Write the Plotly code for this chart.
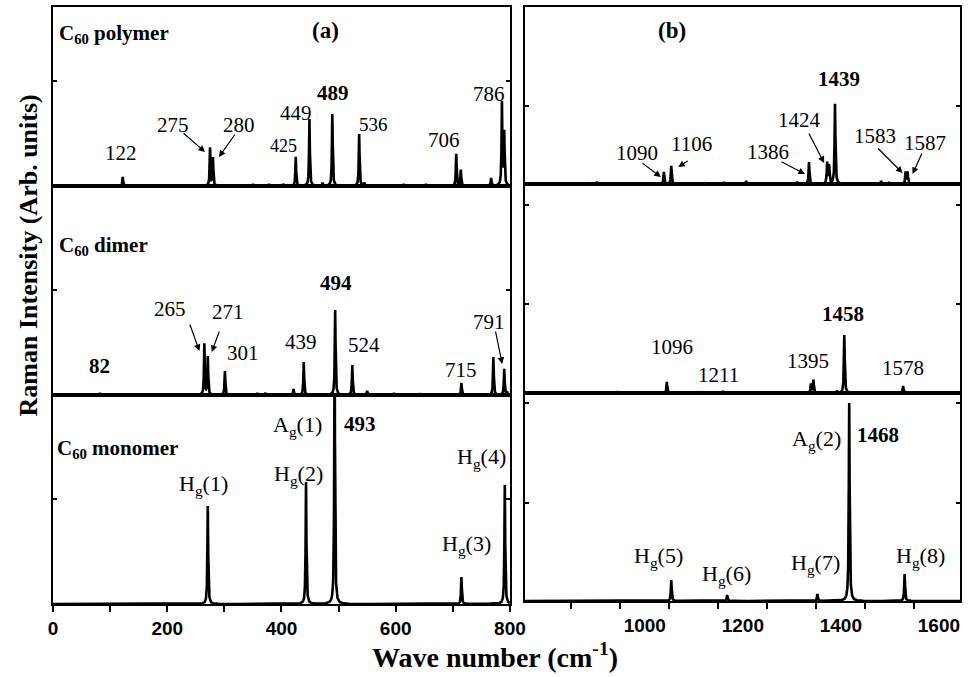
import numpy as np
import plotly.graph_objects as go

# ---------------- data (wave numbers in cm^-1, intensities in arb. units) -------------
poly_low_pos = [122, 275, 280, 350, 378, 403, 425, 449, 472, 489, 536, 545, 614, 653, 706, 714, 767, 786, 790]
poly_low_int = [9, 38, 28, 2, 2, 2, 29, 67, 3, 72, 52, 3, 2, 2, 32, 16, 8, 83, 53]

dimer_low_pos = [82, 265, 271, 301, 358, 372, 421, 439, 494, 524, 550, 597, 643, 715, 771, 790, 795]
dimer_low_int = [2, 51, 38, 24, 2, 2, 6, 33, 85, 30, 4, 2, 1, 12, 38, 26, 3]

mono_low_pos = [271, 443, 493, 715, 791]
mono_low_int = [98, 122, 260, 27, 119]

poly_high_pos = [934, 953, 1090, 1105, 1175, 1212, 1258, 1362, 1386, 1423, 1427, 1439, 1533, 1549, 1583, 1587]
poly_high_int = [1, 2, 12, 18, 1, 2, 3, 2, 22, 21, 18, 80, 3, 2, 12, 12]

dimer_high_pos = [996, 1096, 1162, 1211, 1390, 1395, 1443, 1458, 1578, 1608]
dimer_high_int = [1, 11, 1, 2, 9, 13, 2, 58, 7, 1]

mono_high_pos = [1105, 1219, 1403, 1468, 1581]
mono_high_int = [21, 6, 7, 198, 27]

x_ticks_low = [0, 200, 400, 600, 800]
x_minor_low = [100, 300, 500, 700]
x_ticks_high = [1000, 1200, 1400, 1600]
x_minor_high = [900, 1100, 1300, 1500, 1700]

SERIF = "Liberation Serif"
SANS = "Liberation Sans"


def spectrum(pos, inten, lo, hi, gamma):
    x = np.union1d(np.arange(lo, hi + 0.001, 0.2), np.array(pos, dtype=float))
    y = np.zeros_like(x)
    for p, h in zip(pos, inten):
        y += h * gamma ** 2 / ((x - p) ** 2 + gamma ** 2)
    return x, y


LOW = (0, 800)
HIGH = (806, 1694)
panels = [
    # (pos, int, xrange, gamma, yrange)
    (poly_low_pos, poly_low_int, LOW, 0.8, 179),
    (dimer_low_pos, dimer_low_int, LOW, 0.8, 209),
    (mono_low_pos, mono_low_int, LOW, 0.8, 209),
    (poly_high_pos, poly_high_int, HIGH, 1.0, 177),
    (dimer_high_pos, dimer_high_int, HIGH, 1.0, 209),
    (mono_high_pos, mono_high_int, HIGH, 1.0, 208),
]

# layout geometry (pixels)
W, H = 978, 677
ML, MR, MT, MB = 53, 2, 7, 73
PW, PH = W - ML - MR, H - MT - MB


def xp(px):
    return (px - ML) / PW


def yp(py):
    return (H - MB - py) / PH


x_domains = [[0, xp(518)], [xp(533), 1.0]]
y_domains = [
    [yp(186), 1.0], [yp(395), yp(186)], [0.0, yp(395)],
    [yp(184), 1.0], [yp(393), yp(184)], [yp(601), yp(393)],
]
y_tickvals = [[105], [105], [105], [78, 177], [89, 188], [98, 198]]

fig = go.Figure()
layout = dict(
    width=W, height=H, autosize=False, margin=dict(l=ML, r=MR, t=MT, b=MB),
    paper_bgcolor="white", plot_bgcolor="white", showlegend=False,
)

for i, (pos, inten, xr, gam, ymax) in enumerate(panels):
    n = i + 1
    xs, ys = spectrum(pos, inten, xr[0], xr[1], gam)
    fig.add_trace(go.Scatter(
        x=xs, y=ys, mode="lines", line=dict(color="black", width=2.6),
        xaxis=f"x{n}" if n > 1 else "x", yaxis=f"y{n}" if n > 1 else "y",
        hoverinfo="skip",
    ))
    col = 0 if i < 3 else 1
    bottom = i in (2, 5)
    xa = dict(
        domain=x_domains[col], range=list(xr), anchor=f"y{n}" if n > 1 else "y",
        showline=True, linecolor="black", linewidth=2, mirror=True,
        showgrid=False, zeroline=False, fixedrange=True,
    )
    if bottom:
        xa.update(
            ticks="outside", ticklen=6, tickwidth=2, tickcolor="black",
            tickmode="array",
            tickvals=x_ticks_low if col == 0 else x_ticks_high,
            ticktext=[str(v) for v in (x_ticks_low if col == 0 else x_ticks_high)],
            tickfont=dict(family=SANS, size=19, color="black", weight="bold"),
            minor=dict(ticks="outside", ticklen=6, tickwidth=2, tickcolor="black",
                       tickmode="array",
                       tickvals=x_minor_low if col == 0 else x_minor_high),
        )
        if col == 1:
            xa.update(ticklabelshift=25)
    else:
        xa.update(ticks="", showticklabels=False)
    ya = dict(
        domain=y_domains[i], range=[0, ymax], anchor=f"x{n}" if n > 1 else "x",
        showline=True, linecolor="black", linewidth=2, mirror="ticks",
        ticks="inside", ticklen=4, tickwidth=1.5, tickcolor="black",
        tickmode="array", tickvals=y_tickvals[i], showticklabels=False,
        showgrid=False, zeroline=False, fixedrange=True,
    )
    layout["xaxis" + (str(n) if n > 1 else "")] = xa
    layout["yaxis" + (str(n) if n > 1 else "")] = ya

fig.update_layout(**layout)


def ax_ref(n):
    return ("x" if n == 1 else f"x{n}"), ("y" if n == 1 else f"y{n}")


def height_of(n, v):
    pos, inten = panels[n - 1][0], panels[n - 1][1]
    return inten[pos.index(v)]


annotations = []


def label(n, text, v, dx, dy, size=21, bold=False, y=None):
    xr_, yr_ = ax_ref(n)
    annotations.append(dict(
        text=text, xref=xr_, yref=yr_, x=v, y=height_of(n, v) if y is None else y,
        xshift=dx, yshift=dy, showarrow=False, xanchor="center", yanchor="middle",
        font=dict(family=SERIF, size=size, color="black", weight="bold" if bold else "normal"),
    ))


def arrow(n, v, dx, dy, ax, ay):
    xr_, yr_ = ax_ref(n)
    annotations.append(dict(
        text="", xref=xr_, yref=yr_, x=v, y=height_of(n, v), xshift=dx, yshift=dy,
        showarrow=True, ax=ax, ay=ay, axref="pixel", ayref="pixel",
        arrowhead=2, arrowsize=1.1, arrowwidth=1.2, arrowcolor="black", standoff=0,
        font=dict(family=SERIF, size=12, color="black"),
    ))


def ptext(text, px, py, size, anchor="center", angle=0):
    annotations.append(dict(
        text=text, xref="paper", yref="paper", x=xp(px), y=yp(py), showarrow=False,
        xanchor=anchor, yanchor="middle", textangle=angle,
        font=dict(family=SERIF, size=size, color="black", weight="bold"),
    ))


# panel (a) polymer
label(1, "122", 122, -2, 24)
label(1, "275", 275, -37, 23)
label(1, "280", 280, 26, 33)
label(1, "425", 425, -12, 11, size=18)
label(1, "449", 449, -13, 6)
label(1, "489", 489, 1, 21, bold=True)
label(1, "536", 536, 14, 10, size=19)
label(1, "706", 706, -12, 14)
label(1, "786", 786, -13, 9)
arrow(1, 275, -5, -4, -23, -20)
arrow(1, 280, 6, 1, 17, -24)

# panel (a) dimer
label(2, "82", 82, 0, 27, bold=True)
label(2, "265", 265, -34, 35)
label(2, "271", 271, 20, 45)
label(2, "301", 301, 18, 18)
label(2, "439", 439, -3, 20)
label(2, "494", 494, 1, 27, bold=True)
label(2, "524", 524, 12, 20)
label(2, "715", 715, 0, 13)
label(2, "791", 790, -15, 47)
arrow(2, 265, -5, -7, -10, -28)
arrow(2, 271, 4, 5, 8, -22)
arrow(2, 790, -2, 5, -7, -34)

# panel (a) monomer
label(3, "H<sub>g</sub>(1)", 271, -4, 21, size=22)
label(3, "H<sub>g</sub>(2)", 443, -8, 7, size=22)
label(3, "A<sub>g</sub>(1)", 493, -37, 0, size=22, y=178)
label(3, "493", 493, 25, 0, bold=True, y=180)
label(3, "H<sub>g</sub>(3)", 715, 5, 32, size=22)
label(3, "H<sub>g</sub>(4)", 791, -23, 27, size=22)

# panel (b) polymer
label(4, "1439", 1439, 4, 25, bold=True)
label(4, "1424", 1423, -28, 43)
label(4, "1386", 1386, -41, 10)
label(4, "1090", 1090, -27, 19)
label(4, "1106", 1105, 20, 22)
label(4, "1583", 1583, -31, 36)
label(4, "1587", 1587, 17, 29)
arrow(4, 1090, -3, -5, -20, -15)
arrow(4, 1105, 7, -1, 11, -7)
arrow(4, 1386, -4, -12, -25, -13)
arrow(4, 1423, -3, 0, -16, -31)
arrow(4, 1583, -3, -1, -26, -26)
arrow(4, 1587, 5, -2, 10, -22)

# panel (b) dimer
label(5, "1096", 1096, 5, 35)
label(5, "1211", 1211, -5, 16)
label(5, "1395", 1395, -5, 19)
label(5, "1458", 1458, -1, 21, bold=True)
label(5, "1578", 1578, 0, 18)

# panel (b) monomer
label(6, "A<sub>g</sub>(2)", 1468, -33, -37, size=22)
label(6, "1468", 1468, 29, -32, bold=True)
label(6, "H<sub>g</sub>(5)", 1105, -13, 23, size=22)
label(6, "H<sub>g</sub>(6)", 1219, -1, 20, size=22)
label(6, "H<sub>g</sub>(7)", 1403, -2, 30, size=22)
label(6, "H<sub>g</sub>(8)", 1581, 16, 17, size=22)

# panel titles and axis titles
ptext("C<sub>60</sub> polymer", 57, 34, 21, anchor="left")
ptext("C<sub>60</sub> dimer", 57, 246, 21, anchor="left")
ptext("C<sub>60</sub> monomer", 55, 449, 21, anchor="left")
ptext("(a)", 330, 31, 23)
ptext("(b)", 683, 31, 23)
ptext("Raman Intensity (Arb. units)", 28, 255, 26, angle=-90)
ptext("Wave number (cm<sup>-1</sup>)", 503, 655, 28)

fig.update_layout(annotations=annotations)
post = ("document.documentElement.style.margin='0px';"
        "document.body.style.margin='0px';document.body.style.padding='0px';"
        "document.body.style.overflow='hidden';"
        "document.documentElement.style.overflow='hidden';")
fig.write_html("out.html", config={"displayModeBar": False}, post_script=post)
